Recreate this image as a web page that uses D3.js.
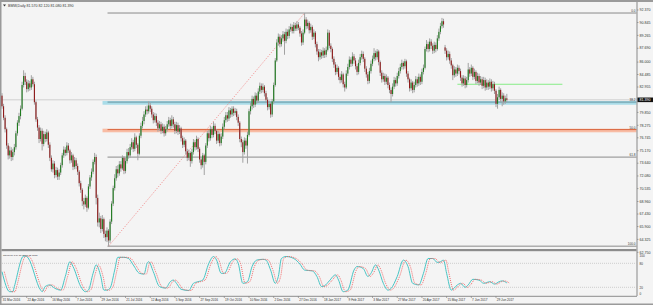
<!DOCTYPE html>
<meta charset="utf-8">
<style>

body { margin: 0; background: #f4f4f4; }
svg { display: block; font-family: "Liberation Sans", Arial, sans-serif; }
.lbl { font-size: 3.6px; fill: #333; }
.date { font-size: 3.1px; fill: #333; }
.small { font-size: 3.1px; fill: #333; }
.tiny { font-size: 2.5px; fill: #333; }

</style>
<svg width="653" height="305"></svg>
<script src="https://cdn.jsdelivr.net/npm/d3@7/dist/d3.min.js"></script>
<script>

// ---- data ----
var title = "BMW,Daily  81.570 82.120 81.080 81.390",
    stochTitle = "Stoch(10,3,3) 30.8813 32.1833";

var firstOpen = 81.9;
var gapOpens = {287: 87.8};   // open differs from previous close

var closes = [
  80.6, 79.2, 77.8, 75.8, 74.6, 75.2, 74.4, 75.0, 75.6, 77.3,
  78.6, 79.4, 80.3, 83.2, 84.3, 83.6, 82.7, 83.4, 82.9, 83.9,
  83.3, 81.1, 79.0, 78.0, 76.6, 77.6, 76.0, 77.2, 76.6, 77.4,
  75.9, 74.3, 72.9, 73.6, 72.2, 72.8, 72.0, 72.5, 73.4, 74.6,
  75.3, 74.9, 75.8, 75.2, 74.0, 74.6, 73.2, 74.0, 73.3, 72.6,
  71.2, 70.4, 69.0, 68.6, 69.4, 68.2, 70.8, 71.9, 72.6, 73.8,
  74.4, 69.4, 66.4, 66.9, 65.6, 66.8, 65.0, 64.6, 65.4, 64.2,
  66.5, 68.7, 70.6, 71.8, 72.9, 72.4, 73.5, 73.0, 74.3, 72.7,
  73.9, 75.0, 74.6, 75.6, 76.2, 75.4, 76.8, 75.9, 74.8, 77.0,
  78.2, 78.8, 79.6, 80.2, 80.0, 80.7, 80.3, 79.6, 78.9, 79.4,
  78.6, 77.9, 78.4, 77.6, 78.1, 77.3, 77.8, 78.4, 78.9, 78.2,
  79.0, 78.4, 77.6, 78.3, 77.5, 77.9, 76.7, 75.9, 76.4, 75.1,
  74.3, 74.9, 73.9, 75.0, 76.2, 75.6, 76.6, 75.4, 74.1, 73.4,
  74.6, 73.8, 75.8, 77.3, 76.7, 77.8, 77.1, 78.2, 77.6, 76.4,
  77.2, 76.1, 76.9, 78.1, 78.9, 79.5, 79.1, 80.1, 79.6, 80.3,
  79.8, 80.0, 79.3, 78.6, 76.6, 76.2, 75.0, 76.4, 75.8, 77.1,
  80.0, 80.6, 81.5, 80.8, 81.9, 81.3, 82.4, 83.1, 82.6, 83.0,
  82.2, 81.4, 80.5, 80.9, 79.6, 81.2, 83.2, 86.2, 88.4, 89.1,
  88.2, 88.9, 89.4, 88.6, 89.7, 89.2, 90.0, 90.3, 89.8, 90.5,
  90.1, 90.6, 90.2, 89.5, 88.4, 89.6, 91.2, 90.4, 90.8, 89.9,
  90.3, 89.1, 89.6, 88.2, 87.3, 86.6, 87.2, 86.8, 87.4, 86.9,
  87.5, 89.6, 88.0, 87.6, 86.4, 85.7, 84.8, 85.3, 84.2, 83.8,
  84.5, 83.3, 82.9, 84.6, 85.4, 86.3, 85.8, 86.7, 86.2, 85.5,
  84.8, 85.9, 86.6, 87.0, 86.4, 85.2, 84.5, 83.7, 84.9, 85.8,
  86.4, 87.1, 86.6, 87.3, 86.0, 84.7, 83.9, 84.3, 83.6, 84.1,
  83.2, 82.6, 82.1, 83.0, 83.8, 83.4, 84.3, 84.9, 85.4, 85.9,
  85.5, 86.1, 84.6, 83.9, 82.8, 83.5, 82.6, 83.2, 83.9, 83.4,
  84.2, 83.6, 84.8, 85.3, 87.6, 88.2, 87.6, 88.5, 88.0, 87.4,
  88.1, 87.6, 88.9, 89.7, 90.4, 91.0, 90.6, 87.4, 86.6, 87.0,
  86.2, 85.6, 84.4, 85.1, 84.6, 85.3, 84.9, 84.1, 83.4, 84.0,
  83.2, 83.8, 85.1, 84.6, 85.3, 84.2, 84.8, 83.7, 84.3, 83.5,
  83.9, 83.1, 83.8, 82.9, 83.5, 83.0, 83.6, 82.8, 83.3, 82.5,
  80.9, 81.7, 82.6, 81.5, 81.9, 81.2, 81.57, 81.39
];

var highs = [
  82.2, 80.9, 79.5, 78.0, 76.1, 75.7, 75.6, 75.4, 76.0, 77.6,
  78.9, 79.8, 80.7, 83.6, 85.0, 84.7, 83.9, 83.8, 83.7, 84.4,
  84.2, 83.6, 81.3, 79.3, 78.3, 78.0, 77.9, 77.6, 77.5, 77.8,
  77.6, 76.2, 74.6, 74.0, 73.9, 73.2, 73.1, 72.9, 73.7, 74.9,
  75.7, 75.6, 76.2, 76.1, 75.4, 75.0, 74.8, 74.4, 74.3, 73.6,
  72.8, 71.5, 70.6, 69.4, 69.8, 69.6, 71.1, 72.2, 73.0, 74.1,
  74.9, 74.7, 69.8, 67.6, 67.2, 67.3, 67.0, 65.4, 65.8, 65.6,
  66.8, 69.0, 70.9, 72.3, 73.3, 73.4, 73.9, 73.9, 74.6, 74.5,
  74.3, 75.4, 75.5, 76.0, 76.7, 76.5, 77.3, 77.0, 76.1, 77.3,
  78.6, 79.3, 80.0, 80.6, 80.7, 81.2, 81.0, 80.6, 79.9, 79.8,
  79.7, 78.9, 78.8, 78.7, 78.5, 78.4, 78.2, 78.8, 79.3, 79.2,
  79.5, 79.3, 78.7, 78.7, 78.6, 78.3, 78.1, 77.0, 76.8, 76.6,
  75.4, 75.3, 75.1, 75.4, 76.6, 76.5, 77.0, 76.8, 75.6, 74.4,
  74.9, 74.8, 76.1, 77.6, 77.7, 78.2, 78.1, 78.7, 78.5, 77.8,
  77.6, 77.4, 77.3, 78.5, 79.3, 79.9, 79.9, 80.5, 80.4, 80.6,
  80.6, 80.4, 80.3, 79.6, 78.8, 76.9, 76.5, 76.8, 76.7, 77.5,
  80.3, 81.0, 81.9, 81.8, 82.3, 82.2, 82.8, 83.5, 83.4, 83.4,
  83.2, 82.5, 81.7, 81.3, 81.1, 81.5, 83.5, 86.5, 88.8, 89.5,
  89.4, 89.3, 89.8, 89.7, 90.1, 90.0, 90.4, 90.7, 90.6, 90.9,
  90.8, 91.0, 90.9, 90.4, 89.8, 90.0, 92.0, 91.5, 91.2, 91.0,
  90.7, 90.5, 90.0, 89.8, 88.5, 87.6, 87.6, 87.5, 87.8, 87.7,
  87.9, 90.0, 89.9, 88.3, 87.8, 86.7, 86.0, 85.7, 85.5, 84.6,
  84.9, 84.7, 83.6, 85.0, 85.8, 86.7, 86.6, 87.2, 87.0, 86.5,
  85.8, 86.3, 87.0, 87.4, 87.3, 86.6, 85.5, 84.8, 85.3, 86.2,
  86.8, 87.7, 87.4, 87.6, 87.5, 86.2, 85.0, 84.7, 84.6, 84.5,
  84.3, 83.5, 82.9, 83.4, 84.2, 84.1, 84.7, 85.3, 85.8, 86.3,
  86.1, 86.4, 86.3, 84.9, 84.1, 83.9, 83.7, 83.6, 84.3, 84.2,
  84.6, 84.5, 85.2, 85.7, 87.9, 88.7, 88.5, 88.9, 88.8, 88.3,
  88.5, 88.4, 89.3, 90.1, 90.8, 91.4, 91.3, 88.1, 87.7, 87.4,
  87.3, 86.5, 85.8, 85.5, 85.4, 85.7, 85.6, 85.2, 84.4, 84.4,
  84.3, 84.2, 85.9, 85.4, 85.7, 85.5, 85.2, 85.0, 84.7, 84.6,
  84.3, 84.2, 84.2, 84.1, 83.9, 83.8, 84.0, 83.9, 83.7, 83.6,
  82.7, 82.1, 83.0, 82.8, 82.3, 82.2, 81.9, 82.12
];

var lows = [
  80.3, 78.9, 77.4, 75.4, 74.1, 74.2, 73.9, 74.0, 74.6, 75.3,
  77.0, 78.2, 79.0, 80.1, 82.9, 83.2, 82.3, 82.4, 82.5, 82.6,
  83.0, 80.8, 78.7, 77.6, 76.1, 76.3, 75.2, 75.7, 76.2, 76.3,
  75.5, 73.9, 72.6, 72.5, 71.8, 71.9, 71.6, 71.6, 72.2, 73.1,
  74.3, 74.5, 74.6, 74.9, 73.6, 73.7, 72.8, 72.9, 72.9, 72.2,
  70.8, 70.0, 68.4, 68.0, 68.3, 67.7, 68.0, 70.5, 71.5, 72.3,
  73.5, 68.6, 65.9, 65.8, 65.1, 65.3, 64.5, 64.1, 64.0, 63.5,
  63.9, 66.2, 68.4, 70.3, 71.5, 71.9, 72.1, 72.6, 72.8, 72.3,
  72.4, 73.6, 74.2, 74.3, 75.3, 75.0, 75.1, 75.5, 74.0, 74.6,
  76.7, 77.9, 78.4, 79.3, 79.6, 79.7, 79.9, 79.2, 78.5, 78.6,
  78.2, 77.5, 77.6, 77.2, 77.3, 76.9, 77.0, 77.5, 78.1, 77.8,
  77.9, 78.0, 77.2, 77.3, 77.1, 77.2, 76.3, 75.5, 75.6, 74.7,
  73.9, 74.0, 73.2, 73.6, 74.7, 75.2, 75.3, 75.0, 73.7, 72.9,
  73.1, 72.2, 73.5, 75.5, 76.3, 76.4, 76.7, 76.8, 77.2, 76.0,
  76.1, 75.7, 75.8, 76.6, 77.8, 78.6, 78.7, 78.8, 79.2, 79.3,
  79.4, 79.5, 78.9, 78.2, 76.2, 75.6, 73.7, 74.7, 75.4, 73.6,
  76.9, 79.6, 80.2, 80.4, 80.5, 80.9, 81.0, 82.1, 82.2, 82.3,
  81.8, 81.0, 80.1, 80.2, 79.2, 79.3, 80.9, 83.0, 86.0, 88.0,
  87.8, 87.9, 88.5, 86.9, 88.3, 88.8, 88.9, 89.7, 89.5, 89.5,
  89.8, 89.8, 89.9, 89.1, 88.0, 88.1, 89.4, 90.0, 90.1, 89.5,
  89.6, 88.7, 88.8, 87.8, 86.9, 86.1, 86.3, 86.4, 86.5, 86.5,
  86.6, 87.3, 87.7, 87.2, 86.0, 85.3, 84.4, 84.5, 83.8, 83.4,
  83.5, 82.9, 82.4, 82.7, 84.3, 85.1, 85.4, 85.5, 85.8, 85.1,
  84.4, 84.5, 85.6, 86.3, 86.0, 84.8, 84.1, 83.3, 83.4, 84.6,
  85.5, 86.1, 86.2, 86.3, 85.6, 84.3, 83.5, 83.6, 83.2, 83.3,
  82.8, 82.2, 81.1, 81.8, 82.7, 83.0, 83.1, 84.0, 84.6, 85.1,
  85.1, 85.2, 84.2, 83.5, 82.4, 82.5, 82.2, 82.3, 82.9, 83.0,
  83.1, 83.2, 83.3, 84.5, 85.1, 87.3, 87.2, 87.3, 87.6, 87.0,
  87.1, 87.2, 87.4, 88.6, 89.4, 90.1, 90.2, 87.0, 86.2, 86.3,
  85.8, 85.2, 83.8, 84.1, 84.2, 84.3, 84.5, 83.7, 83.0, 83.1,
  82.8, 82.9, 83.5, 84.2, 84.3, 83.8, 83.9, 83.3, 83.4, 83.1,
  83.2, 82.7, 82.8, 82.5, 82.6, 82.6, 82.7, 82.4, 82.5, 82.1,
  80.5, 80.3, 81.4, 81.1, 80.6, 80.8, 80.9, 81.08
];

// stochastic main line, [bar, value]
var stochK = [
  [0,59],[5,9],[7,9],[8,22],[14,98],[16,97],[17,93],[25,13],[26,9],[28,22],
  [31,26],[34,18],[38,13],[41,47],[44,84],[46,72],[51,22],[54,9],[56,13],[59,55],
  [61,76],[64,47],[66,13],[68,13],[70,18],[73,63],[75,95],[79,95],[82,92],[85,76],
  [89,55],[92,53],[94,80],[95,84],[98,59],[102,22],[106,18],[109,34],[111,38],[113,30],
  [116,15],[121,12],[124,30],[127,34],[130,38],[134,80],[137,97],[139,88],[142,55],[144,55],
  [148,84],[151,91],[153,80],[156,30],[159,34],[162,72],[165,88],[169,90],[171,88],[174,63],
  [177,30],[179,47],[181,92],[184,97],[189,92],[193,78],[196,63],[201,61],[204,47],[207,22],
  [209,24],[212,36],[216,51],[218,38],[221,9],[224,13],[228,63],[230,72],[234,67],[237,47],
  [239,55],[242,76],[244,63],[247,30],[250,13],[252,17],[256,47],[260,88],[263,72],[266,30],
  [270,26],[273,55],[276,92],[279,92],[282,82],[284,84],[286,88],[288,55],[291,13],[295,26],
  [297,30],[300,20],[302,26],[305,40],[309,38],[312,30],[316,34],[319,28],[322,34],[324,36],
  [327,31]
];

var priceTicks = [92.370, 90.845, 89.265, 87.690, 86.000, 84.485, 82.955, 79.850, 78.275,
  76.745, 75.170, 73.640, 72.080, 70.535, 68.960, 67.430, 65.900, 64.325, 62.750];
var lastPrice = 81.390;
var stochTicks = [100, 80, 20, 0];

var dateLabels = ["31 Mar 2016", "22 Apr 2016", "16 May 2016", "7 Jun 2016", "29 Jun 2016",
  "21 Jul 2016", "12 Aug 2016", "5 Sep 2016", "27 Sep 2016", "19 Oct 2016", "10 Nov 2016",
  "2 Dec 2016", "27 Dec 2016", "18 Jan 2017", "9 Feb 2017", "3 Mar 2017", "27 Mar 2017",
  "20 Apr 2017", "15 May 2017", "7 Jun 2017", "29 Jun 2017"];
var labelEvery = 16;

// fibonacci from the July 2016 low to the January 2017 high
var fiboLow = {bar: 69, price: 63.5}, fiboHigh = {bar: 196, price: 92.0};
var fiboLevels = [0, 0.382, 0.5, 0.618, 1];
var blueZone = [80.79, 81.24], orangeZone = [77.42, 77.86];
var greenLine = {from: 295, to: 363, price: 83.29};

// ---- layout ----
var svg = d3.select("svg");
var right = 636.5;

var x = d3.scaleLinear().domain([0, 411]).range([2, right]);
var y = d3.scaleLinear().domain([62.75, 92.37]).range([252.3, 10]);
var ys = d3.scaleLinear().domain([0, 100]).range([295.3, 255.3]);

// frame
svg.append("rect").attr("width", 653).attr("height", 305).attr("fill", "#f4f4f4");
svg.append("rect").attr("x", 0).attr("y", 0).attr("width", 653).attr("height", 2).attr("fill", "#9a9a9a");
svg.append("rect").attr("x", 0).attr("y", 0).attr("width", 1.5).attr("height", 305).attr("fill", "#9a9a9a");
svg.append("rect").attr("x", 0).attr("y", 303.5).attr("width", 653).attr("height", 1.5).attr("fill", "#9a9a9a");

var main = svg.append("g");

// zones
main.append("rect")
    .attr("x", x(fiboLow.bar) - 6).attr("width", right - x(fiboLow.bar) + 6)
    .attr("y", y(blueZone[1])).attr("height", y(blueZone[0]) - y(blueZone[1]))
    .attr("fill", "#a9dce8");
main.append("rect")
    .attr("x", x(fiboLow.bar) - 6).attr("width", right - x(fiboLow.bar) + 6)
    .attr("y", y(orangeZone[1])).attr("height", y(orangeZone[0]) - y(orangeZone[1]))
    .attr("fill", "#f8bca4");

// current price line
main.append("line")
    .attr("x1", 2).attr("x2", right)
    .attr("y1", y(lastPrice)).attr("y2", y(lastPrice))
    .attr("stroke", "#cfcfcf").attr("stroke-width", 1);

// fibo levels
var levelColor = {0: "#8a8a8a", 0.382: "#6a97a3", 0.5: "#d9653e", 0.618: "#8a8a8a", 1: "#8a8a8a"};
fiboLevels.forEach(function(r) {
  var p = fiboHigh.price - r * (fiboHigh.price - fiboLow.price);
  main.append("line")
      .attr("x1", x(fiboLow.bar) - 1).attr("x2", right)
      .attr("y1", y(p)).attr("y2", y(p))
      .attr("stroke", levelColor[r]).attr("stroke-width", 1);
  main.append("text")
      .attr("class", "small")
      .attr("x", right - 1).attr("y", y(p) - 1)
      .attr("text-anchor", "end")
      .text((r * 100).toFixed(1));
});

main.append("line")
    .attr("x1", x(fiboLow.bar)).attr("y1", y(fiboLow.price))
    .attr("x2", x(fiboHigh.bar)).attr("y2", y(fiboHigh.price))
    .attr("stroke", "#f07070").attr("stroke-width", 0.8)
    .attr("stroke-dasharray", "1,1.5");

// green line
main.append("line")
    .attr("x1", x(greenLine.from)).attr("x2", x(greenLine.to))
    .attr("y1", y(greenLine.price)).attr("y2", y(greenLine.price))
    .attr("stroke", "#86ec86").attr("stroke-width", 1);

// candles
var bars = closes.map(function(c, i) {
  var o = gapOpens[i] !== undefined ? gapOpens[i] : (i === 0 ? firstOpen : closes[i - 1]);
  return {i: i, o: o, h: highs[i], l: lows[i], c: c};
});

var candle = main.selectAll(".candle")
  .data(bars)
  .enter().append("g")
    .attr("class", "candle");

candle.append("line")
    .attr("x1", function(d) { return x(d.i); })
    .attr("x2", function(d) { return x(d.i); })
    .attr("y1", function(d) { return y(d.h); })
    .attr("y2", function(d) { return y(d.l); })
    .attr("stroke", "#a2a2a2").attr("stroke-width", 1);

candle.append("rect")
    .attr("x", function(d) { return x(d.i) - 0.55; })
    .attr("width", 1.1)
    .attr("y", function(d) { return y(Math.max(d.o, d.c)); })
    .attr("height", function(d) { return Math.max(0.6, Math.abs(y(d.o) - y(d.c))); })
    .attr("fill", function(d) { return d.c >= d.o ? "#1f7a1f" : "#8e1a1a"; });

// title
svg.append("path").attr("d", "M3,4.5 L6,4.5 L4.5,6.5 Z").attr("fill", "#333");
svg.append("text").attr("class", "lbl").attr("x", 8).attr("y", 6.8).text(title);

// price axis
svg.append("line").attr("x1", right + 0.5).attr("x2", right + 0.5).attr("y1", 2).attr("y2", 296)
    .attr("stroke", "#888").attr("stroke-width", 1);

svg.selectAll(".ptick")
  .data(priceTicks)
  .enter().append("text")
    .attr("class", "lbl")
    .attr("x", right + 3).attr("y", function(d) { return y(d) + 1.2; })
    .text(function(d) { return d.toFixed(3); });

svg.selectAll(".ptickmark")
  .data(priceTicks)
  .enter().append("line")
    .attr("x1", right + 0.5).attr("x2", right + 2)
    .attr("y1", function(d) { return y(d); }).attr("y2", function(d) { return y(d); })
    .attr("stroke", "#777").attr("stroke-width", 0.6);

svg.append("rect").attr("x", right + 1).attr("y", y(lastPrice) - 2.3).attr("width", 16).attr("height", 4.6)
    .attr("fill", "#111");
svg.append("text").attr("class", "lbl").attr("x", right + 3).attr("y", y(lastPrice) + 1.2)
    .style("fill", "#fff").text(lastPrice.toFixed(3));

// panel separator
svg.append("rect").attr("x", 1.5).attr("y", 249).attr("width", right - 1.5).attr("height", 2.2).attr("fill", "#8c8c8c");

// stochastic panel
var stoch = svg.append("g");
[80, 20].forEach(function(v) {
  stoch.append("line")
      .attr("x1", 2).attr("x2", right)
      .attr("y1", ys(v)).attr("y2", ys(v))
      .attr("stroke", "#b4b4b4").attr("stroke-width", 0.6)
      .attr("stroke-dasharray", "1,1");
});

var kLine = d3.line()
    .x(function(d) { return x(d[0]); })
    .y(function(d) { return ys(d[1]); })
    .curve(d3.curveMonotoneX);

stoch.append("path")
    .attr("d", kLine(stochK))
    .attr("fill", "none").attr("stroke", "#48c4c4").attr("stroke-width", 1);

// signal line trails the main line by about 1.5 bars in the picture
stoch.append("path")
    .attr("d", kLine(stochK))
    .attr("transform", "translate(" + (x(1.5) - x(0)) + ",0)")
    .attr("fill", "none").attr("stroke", "#f06060").attr("stroke-width", 0.9)
    .attr("stroke-dasharray", "1,1");

stoch.append("text").attr("class", "tiny").attr("x", 3).attr("y", 255.5).text(stochTitle);

svg.selectAll(".stick")
  .data(stochTicks)
  .enter().append("text")
    .attr("class", "small")
    .attr("x", right + 3)
    .attr("y", function(d) { return Math.min(ys(d) + 1.8, 294.6); })
    .text(function(d) { return d; });

// time axis
svg.append("line").attr("x1", 1.5).attr("x2", right + 0.5).attr("y1", 296.3).attr("y2", 296.3)
    .attr("stroke", "#8c8c8c").attr("stroke-width", 1);

svg.selectAll(".dlabel")
  .data(dateLabels)
  .enter().append("text")
    .attr("class", "date")
    .attr("x", function(d, k) { return x(k * labelEvery) + 0.8; })
    .attr("y", 300.8)
    .text(function(d) { return d; });

svg.selectAll(".dtick")
  .data(dateLabels)
  .enter().append("line")
    .attr("x1", function(d, k) { return x(k * labelEvery); })
    .attr("x2", function(d, k) { return x(k * labelEvery); })
    .attr("y1", 296.3).attr("y2", 298)
    .attr("stroke", "#777").attr("stroke-width", 0.6);

</script>
